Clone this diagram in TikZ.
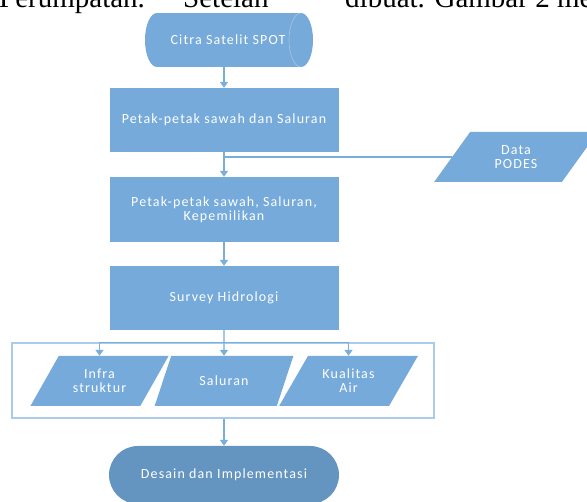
\documentclass[tikz,border=0pt]{standalone}
\usepackage{fontspec}
\setmainfont{Liberation Serif}
\newfontfamily\boxfont[LetterSpace=8]{Carlito}
\usetikzlibrary{arrows.meta,shapes.geometric}
\definecolor{boxblue}{HTML}{75AADB}
\definecolor{termblue}{HTML}{6494C0}
\definecolor{lineblue}{HTML}{78AEDC}
\definecolor{frameblue}{HTML}{A9CCEA}
\definecolor{arcline}{HTML}{A6C7E6}
\begin{document}
\begin{tikzpicture}[x=1pt,y=-1pt,
  lbl/.style={text=white, font=\boxfont\fontsize{14pt}{14pt}\selectfont, align=center},
  procbox/.style={lbl, rectangle, fill=boxblue, minimum width=229pt, minimum height=64pt, inner sep=0pt},
  iobox/.style={lbl, trapezium, trapezium stretches=true, fill=boxblue,
    trapezium left angle=52, trapezium right angle=128,
    minimum height=50pt, minimum width=139pt, inner sep=0pt},
  conn/.style={draw=lineblue, line width=1.3pt},
  arr/.style={conn, -{Triangle[width=8pt,length=6pt]}},
  toptext/.style={font=\fontsize{29pt}{34pt}\selectfont, anchor=base west, inner sep=0pt, text=black}
]
\useasboundingbox (0,0) rectangle (587,502);

% cut-off line of page text
\node[toptext] (t1) at (-1,8) {Perumpatan.};
\node[toptext] (t2) at (183,8) {Setelah};
\node[toptext] (t3) at (345,8) {dibuat. Gambar 2 me};

% cylinder (stored data)
\fill[boxblue] (157,13) rectangle (301,67);
\fill[boxblue] (157,40) ellipse [x radius=12pt, y radius=27pt];
\fill[boxblue] (301,40) ellipse [x radius=12pt, y radius=27pt];
\draw[arcline, line width=0.6pt] (301,13) .. controls (294.4,13) and (289,25.1) .. (289,40)
  .. controls (289,54.9) and (294.4,67) .. (301,67);
\node[lbl, minimum width=168pt, minimum height=54pt, inner sep=0pt] (citra) at (228,40) {Citra Satelit SPOT};

% process boxes
\node[procbox] (box1) at (224,120) {Petak-petak sawah dan Saluran};
\node[procbox, minimum height=65pt] (box2) at (224,209.5) {Petak-petak sawah, Saluran,\\Kepemilikan};
\node[procbox] (box3) at (224,298) {Survey Hidrologi};

% data input
\node[iobox, trapezium left angle=54, trapezium right angle=126, minimum width=164pt] (podes) at (516,157) {Data\\PODES};

% frame around outputs
\node[draw=frameblue, line width=1.2pt, minimum width=422pt, minimum height=75pt, inner sep=0pt] (frame) at (223,380.5) {};

\node[iobox] (infra) at (99.5,381) {Infra\\struktur};
\node[iobox] (salur) at (224,381) {Saluran};
\node[iobox] (kual) at (348.5,381) {Kualitas\\Air};

% terminal
\node[lbl, fill=termblue, rounded corners=29pt, minimum width=230pt, minimum height=58pt, inner sep=0pt] (desain) at (224,475) {Desain dan Implementasi};

% connectors
\draw[arr] (citra.south -| box1.north) -- (box1.north);
\draw[arr] (box1.south) -- (box2.north);
\draw[conn] (podes.left side) -- (podes.left side -| box1.south);
\draw[arr] (box2.south) -- (box3.north);
\draw[arr] (box3.south) -- (salur.north);
\draw[conn] (frame.north -| infra.north) -- (frame.north -| kual.north);
\draw[arr] (frame.north -| infra.north) -- (infra.north);
\draw[arr] (frame.north -| kual.north) -- (kual.north);
\draw[arr] (frame.south -| desain.north) -- (desain.north);
\end{tikzpicture}
\end{document}
